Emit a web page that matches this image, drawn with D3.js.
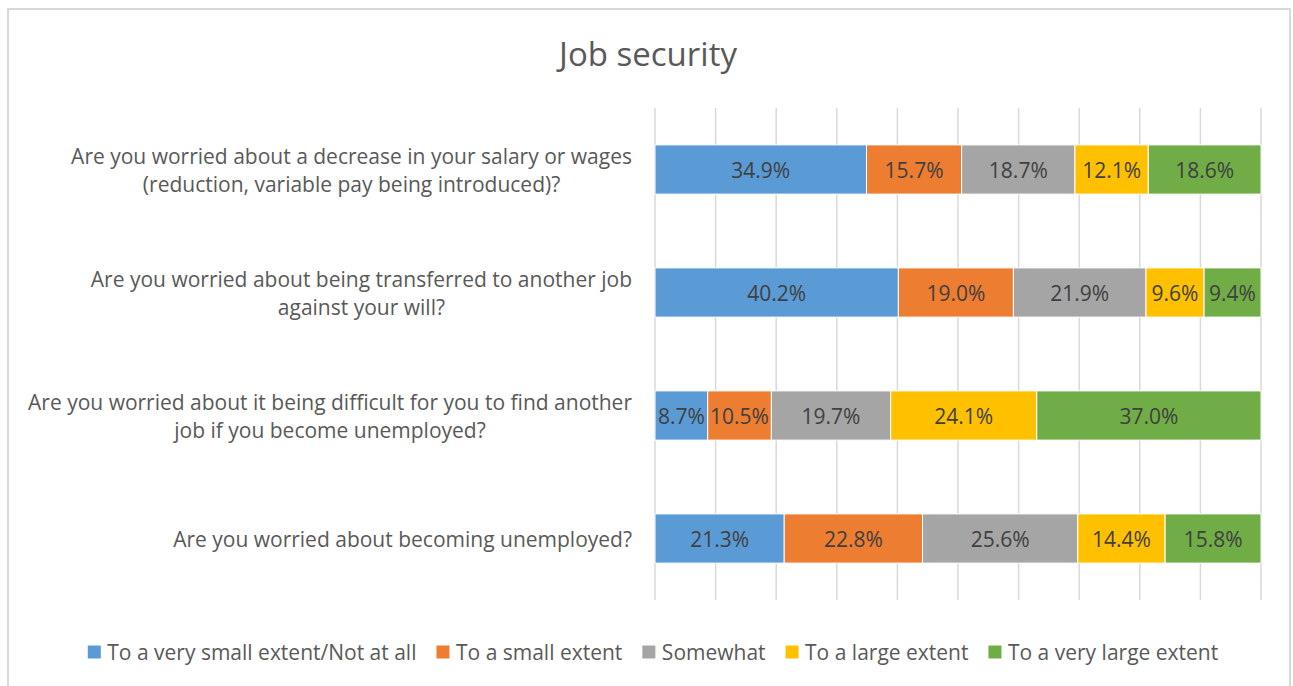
<!DOCTYPE html>
<html>
<head>
<meta charset="utf-8">
<script src="https://cdn.jsdelivr.net/npm/d3@7"></script>
<style>
  body { margin: 0; background: #fff; }
  text { font-family: "Open Sans", sans-serif; fill: #595959; }
</style>
</head>
<body>
<script>
// chart data
var questions = [
  ["Are you worried about a decrease in your salary or wages", "(reduction, variable pay being introduced)?"],
  ["Are you worried about being transferred to another job", "against your will?"],
  ["Are you worried about it being difficult for you to find another", "job if you become unemployed?"],
  ["Are you worried about becoming unemployed?"]
];
var seriesNames = ["To a very small extent/Not at all", "To a small extent", "Somewhat",
                   "To a large extent", "To a very large extent"];
var seriesColors = ["#5B9BD5", "#ED7D31", "#A5A5A5", "#FFC000", "#70AD47"];
var verySmall = [34.9, 40.2, 8.7, 21.3];
var small = [15.7, 19.0, 10.5, 22.8];
var somewhat = [18.7, 21.9, 19.7, 25.6];
var large = [12.1, 9.6, 24.1, 14.4];
var veryLarge = [18.6, 9.4, 37.0, 15.8];
var gridTicks = [0, 0.1, 0.2, 0.3, 0.4, 0.5, 0.6, 0.7, 0.8, 0.9, 1];

var W = 1293;
var H = 686;
var plotLeft = 655, plotRight = 1261, plotTop = 108, plotBottom = 600;

function main() {
  var allSeries = [verySmall, small, somewhat, large, veryLarge];
  var rows = questions.map(function(q, i) {
    var r = { idx: i };
    allSeries.forEach(function(s, j) { r["s" + j] = s[i]; });
    return r;
  });

  var svg = d3.select("body").append("svg")
    .attr("width", W)
    .attr("height", H);

  // outer chart frame
  svg.append("rect")
    .attr("x", 8).attr("y", 9)
    .attr("width", 1282).attr("height", 690)
    .style("fill", "none")
    .style("stroke", "#d9d9d9")
    .style("stroke-width", 2);

  var xScale = d3.scaleLinear().domain([0, 1]).range([plotLeft, plotRight]);
  var yScale = d3.scaleBand()
    .domain(d3.range(questions.length))
    .range([plotTop, plotBottom])
    .paddingInner(0.6)
    .paddingOuter(0.3);

  // vertical gridlines
  svg.append("g").selectAll("line")
    .data(gridTicks)
    .enter()
    .append("line")
    .attr("x1", function(d) { return xScale(d); })
    .attr("x2", function(d) { return xScale(d); })
    .attr("y1", plotTop)
    .attr("y2", plotBottom)
    .style("stroke", "#d9d9d9")
    .style("stroke-width", 1.5);

  // stack, normalised to 100%
  var keys = seriesNames.map(function(d, j) { return "s" + j; });
  var stacked = d3.stack().keys(keys).offset(d3.stackOffsetExpand)(rows);

  var layers = svg.append("g").selectAll("g.layer")
    .data(stacked)
    .enter()
    .append("g")
    .attr("class", "layer")
    .style("fill", function(d, j) { return seriesColors[j]; });

  layers.selectAll("rect")
    .data(function(d) { return d; })
    .enter()
    .append("rect")
    .attr("x", function(d) { return xScale(d[0]); })
    .attr("width", function(d) { return xScale(d[1]) - xScale(d[0]); })
    .attr("y", function(d, i) { return yScale(i); })
    .attr("height", yScale.bandwidth())
    .style("stroke", "#fff")
    .style("stroke-width", 1);

  layers.selectAll("text")
    .data(function(d) { var k = d.key; return d.map(function(p) { return { p: p, v: p.data[k] }; }); })
    .enter()
    .append("text")
    .attr("x", function(d) { return (xScale(d.p[0]) + xScale(d.p[1])) / 2; })
    .attr("y", function(d, i) { return yScale(i) + yScale.bandwidth() / 2; })
    .attr("text-anchor", "middle")
    .attr("dominant-baseline", "central")
    .style("font-size", "21px")
    .style("fill", "#404040")
    .text(function(d) { return d.v.toFixed(1) + "%"; });

  // category labels, centred block ending at x=632
  var labels = svg.append("g").selectAll("g.cat")
    .data(questions)
    .enter()
    .append("g")
    .attr("class", "cat");

  labels.each(function(lines, i) {
    var g = d3.select(this);
    var cy = yScale(i) + yScale.bandwidth() / 2;
    var lh = 28;
    var t = g.selectAll("text")
      .data(lines)
      .enter()
      .append("text")
      .attr("y", function(d, k) { return cy + (k - (lines.length - 1) / 2) * lh; })
      .attr("dominant-baseline", "central")
      .attr("text-anchor", "middle")
      .style("font-size", "21px")
      .text(function(d) { return d; });
    var maxW = 0;
    t.each(function() { maxW = Math.max(maxW, this.getComputedTextLength()); });
    t.attr("x", 632 - maxW / 2);
  });

  // title
  svg.append("text")
    .attr("x", 648)
    .attr("y", 53)
    .attr("text-anchor", "middle")
    .attr("dominant-baseline", "central")
    .style("font-size", "33px")
    .text("Job security");

  // legend
  var legend = svg.append("g");
  var lx = 0;
  seriesNames.forEach(function(name, j) {
    var item = legend.append("g").attr("transform", "translate(" + lx + ",0)");
    item.append("rect")
      .attr("x", 0).attr("y", -6.5)
      .attr("width", 13).attr("height", 13)
      .style("fill", seriesColors[j]);
    var txt = item.append("text")
      .attr("x", 19.5)
      .attr("y", 0)
      .attr("dominant-baseline", "central")
      .style("font-size", "21px")
      .text(name);
    lx += 19.5 + txt.node().getComputedTextLength() + 20;
  });
  lx -= 20;
  legend.attr("transform", "translate(" + (653 - lx / 2) + ",652)");
}

main();
</script>
</body>
</html>
